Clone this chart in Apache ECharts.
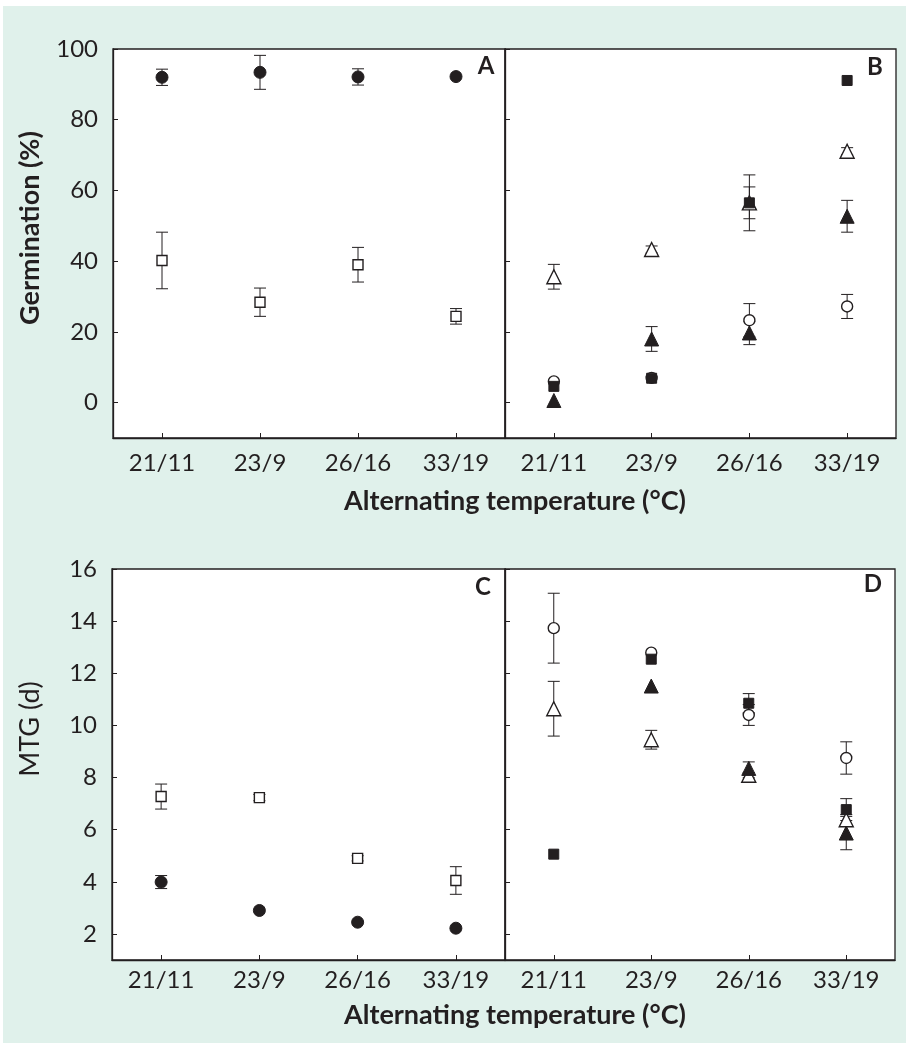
<!DOCTYPE html>
<html>
<head>
<meta charset="utf-8">
<script src="https://cdn.jsdelivr.net/npm/echarts@6/dist/echarts.min.js"></script>
<style>
html,body{margin:0;padding:0;background:#fff;}
#chart{width:906px;height:1045px;}
</style>
</head>
<body>
<div id="chart"></div>
<script>
// ---------- data ----------
const categories = ['21/11', '23/9', '26/16', '33/19'];

const germTicks = [0, 20, 40, 60, 80, 100];
const mtgTicks = [2, 4, 6, 8, 10, 12, 14, 16];

// Panel A (Germination %)
const A_filledCircle = [92.0, 93.4, 92.1, 92.2];
const A_filledCircleErr = [2.3, 4.8, 2.3, 0];
const A_openSquare = [40.2, 28.4, 39.0, 24.4];
const A_openSquareErr = [8.0, 4.0, 4.9, 2.2];

// Panel B (Germination %)
const B_openTriangle = [35.6, 43.3, 56.5, 71.1];
const B_openTriangleErr = [3.5, 1.0, 7.9, 1.0];
const B_openCircle = [6.0, 7.0, 23.3, 27.2];
const B_openCircleErr = [0, 0, 4.7, 3.4];
const B_filledTriangle = [0.6, 18.0, 19.7, 52.7];
const B_filledTriangleErr = [0, 3.5, 3.3, 4.5];
const B_filledSquare = [4.6, 6.9, 56.5, 91.1];
const B_filledSquareErr = [0, 0, 4.5, 0];

// Panel C (MTG, d)
const C_openSquare = [7.27, 7.23, 4.9, 4.05];
const C_openSquareErr = [0.48, 0.12, 0.1, 0.53];
const C_filledCircle = [3.99, 2.9, 2.45, 2.22];
const C_filledCircleErr = [0.25, 0, 0, 0];

// Panel D (MTG, d)
const D_openTriangle = [10.64, 9.45, 8.09, 6.38];
const D_openTriangleErr = [1.05, 0.36, 0.1, 0.2];
const D_openCircle = [13.73, 12.79, 10.4, 8.75];
const D_openCircleErr = [1.34, 0, 0.4, 0.62];
const D_filledTriangle = [null, 11.51, 8.35, 5.87];
const D_filledTriangleErr = [0, 0, 0.25, 0.64];
const D_filledSquare = [5.06, 12.54, 10.85, 6.77];
const D_filledSquareErr = [0, 0, 0.37, 0.42];

// ---------- chart ----------
const FONT = 'Lato';
const INK = '#231f20';
const chart = echarts.init(document.getElementById('chart'), null, {renderer: 'canvas'});

const grids = [
  {left: 113, top: 49, width: 392, height: 389},
  {left: 505, top: 49, width: 391, height: 389},
  {left: 112, top: 569, width: 393, height: 391},
  {left: 505, top: 569, width: 390, height: 391}
].map(g => Object.assign(g, {show: true, backgroundColor: '#fff', borderColor: INK, borderWidth: 1.3, containLabel: false}));

function xAxis(gi, margin) {
  return {
    type: 'category', gridIndex: gi, data: categories, boundaryGap: true,
    axisLine: {show: true, onZero: false, lineStyle: {color: INK, width: 1.3}},
    axisTick: {show: true, inside: true, alignWithLabel: true, length: 5, lineStyle: {color: INK}},
    axisLabel: {show: true, margin: margin, color: INK, fontFamily: FONT, fontSize: 24},
    splitLine: {show: false}
  };
}
function yAxis(gi, min, max, ticks, showLabel) {
  return {
    type: 'value', gridIndex: gi, min: min, max: max,
    axisLine: {show: true, onZero: false, lineStyle: {color: INK, width: 1.3}},
    axisTick: {show: true, inside: true, length: 5, customValues: ticks, lineStyle: {color: INK}},
    axisLabel: {show: showLabel, customValues: ticks, margin: 15, color: INK, fontFamily: FONT, fontSize: 24},
    splitLine: {show: false}
  };
}

function errSeries(gi, vals, errs) {
  const data = vals.map((v, i) => [i, v, errs[i]]).filter(d => d[1] != null && d[2] > 0);
  return {
    type: 'custom', xAxisIndex: gi, yAxisIndex: gi, z: 1, silent: true,
    data: data,
    renderItem: function (params, api) {
      const i = api.value(0), v = api.value(1), e = api.value(2);
      const hi = api.coord([i, v + e]);
      const lo = api.coord([i, v - e]);
      const cw = 6;
      const st = {stroke: INK, lineWidth: 1};
      return {
        type: 'group',
        children: [
          {type: 'line', shape: {x1: hi[0], y1: hi[1], x2: lo[0], y2: lo[1]}, style: st},
          {type: 'line', shape: {x1: hi[0] - cw, y1: hi[1], x2: hi[0] + cw, y2: hi[1]}, style: st},
          {type: 'line', shape: {x1: lo[0] - cw, y1: lo[1], x2: lo[0] + cw, y2: lo[1]}, style: st}
        ]
      };
    }
  };
}

const markerStyles = {
  filledCircle: {symbol: 'circle', symbolSize: 12, itemStyle: {color: INK, borderColor: INK, borderWidth: 1, opacity: 1}},
  openCircle: {symbol: 'circle', symbolSize: 11, itemStyle: {color: '#fff', borderColor: INK, borderWidth: 1.4, opacity: 1}},
  filledSquare: {symbol: 'rect', symbolSize: 10, itemStyle: {color: INK, borderColor: INK, borderWidth: 1, opacity: 1}},
  openSquare: {symbol: 'rect', symbolSize: 10, itemStyle: {color: '#fff', borderColor: INK, borderWidth: 1.4, opacity: 1}},
  filledTriangle: {symbol: 'triangle', symbolSize: 14, itemStyle: {color: INK, borderColor: INK, borderWidth: 1, opacity: 1}},
  openTriangle: {symbol: 'triangle', symbolSize: 14, itemStyle: {color: '#fff', borderColor: INK, borderWidth: 1.4, opacity: 1}}
};

function pointSeries(gi, vals, kind, z) {
  const s = markerStyles[kind];
  return {
    type: 'scatter', xAxisIndex: gi, yAxisIndex: gi, z: z, silent: true,
    symbol: s.symbol, symbolSize: s.symbolSize, itemStyle: s.itemStyle,
    data: vals.map((v, i) => [i, v]).filter(d => d[1] != null)
  };
}

const series = [
  // A
  errSeries(0, A_filledCircle, A_filledCircleErr),
  errSeries(0, A_openSquare, A_openSquareErr),
  pointSeries(0, A_filledCircle, 'filledCircle', 3),
  pointSeries(0, A_openSquare, 'openSquare', 3),
  // B
  errSeries(1, B_openTriangle, B_openTriangleErr),
  errSeries(1, B_openCircle, B_openCircleErr),
  errSeries(1, B_filledTriangle, B_filledTriangleErr),
  errSeries(1, B_filledSquare, B_filledSquareErr),
  pointSeries(1, B_openTriangle, 'openTriangle', 2),
  pointSeries(1, B_openCircle, 'openCircle', 3),
  pointSeries(1, B_filledTriangle, 'filledTriangle', 4),
  pointSeries(1, B_filledSquare, 'filledSquare', 5),
  // C
  errSeries(2, C_openSquare, C_openSquareErr),
  errSeries(2, C_filledCircle, C_filledCircleErr),
  pointSeries(2, C_openSquare, 'openSquare', 3),
  pointSeries(2, C_filledCircle, 'filledCircle', 3),
  // D
  errSeries(3, D_openTriangle, D_openTriangleErr),
  errSeries(3, D_openCircle, D_openCircleErr),
  errSeries(3, D_filledTriangle, D_filledTriangleErr),
  errSeries(3, D_filledSquare, D_filledSquareErr),
  pointSeries(3, D_openTriangle, 'openTriangle', 2),
  pointSeries(3, D_openCircle, 'openCircle', 3),
  pointSeries(3, D_filledTriangle, 'filledTriangle', 4),
  pointSeries(3, D_filledSquare, 'filledSquare', 5)
];

const panelLetters = [
  {t: 'A', x: 486, y: 66},
  {t: 'B', x: 875, y: 67},
  {t: 'C', x: 483, y: 587},
  {t: 'D', x: 873, y: 584}
];

const graphic = [
  {type: 'rect', shape: {x: 3, y: 6, width: 903, height: 1037}, style: {fill: '#e0f1eb'}, z: -100, silent: true},
  {type: 'text', x: 30, y: 228, rotation: Math.PI / 2, z: 10,
   style: {text: 'Germination (%)', fill: INK, font: 'bold 27px ' + FONT, textAlign: 'center', textVerticalAlign: 'middle'}},
  {type: 'text', x: 30, y: 729, rotation: Math.PI / 2, z: 10,
   style: {text: 'MTG (d)', fill: INK, font: '27px ' + FONT, textAlign: 'center', textVerticalAlign: 'middle'}},
  {type: 'text', x: 515, y: 501, z: 10,
   style: {text: 'Alternating temperature (°C)', fill: INK, font: 'bold 27px ' + FONT, textAlign: 'center', textVerticalAlign: 'middle'}},
  {type: 'text', x: 515, y: 1015, z: 10,
   style: {text: 'Alternating temperature (°C)', fill: INK, font: 'bold 27px ' + FONT, textAlign: 'center', textVerticalAlign: 'middle'}}
].concat(panelLetters.map(p => ({
  type: 'text', x: p.x, y: p.y, z: 10,
  style: {text: p.t, fill: INK, font: 'bold 24px ' + FONT, textAlign: 'center', textVerticalAlign: 'middle'}
})));

chart.setOption({
  backgroundColor: '#fff',
  animation: false,
  grid: grids,
  xAxis: [xAxis(0, 13), xAxis(1, 13), xAxis(2, 8), xAxis(3, 8)],
  yAxis: [
    yAxis(0, -10, 100, germTicks, true),
    yAxis(1, -10, 100, germTicks, false),
    yAxis(2, 1, 16, mtgTicks, true),
    yAxis(3, 1, 16, mtgTicks, false)
  ],
  graphic: graphic,
  series: series
});
</script>
</body>
</html>
